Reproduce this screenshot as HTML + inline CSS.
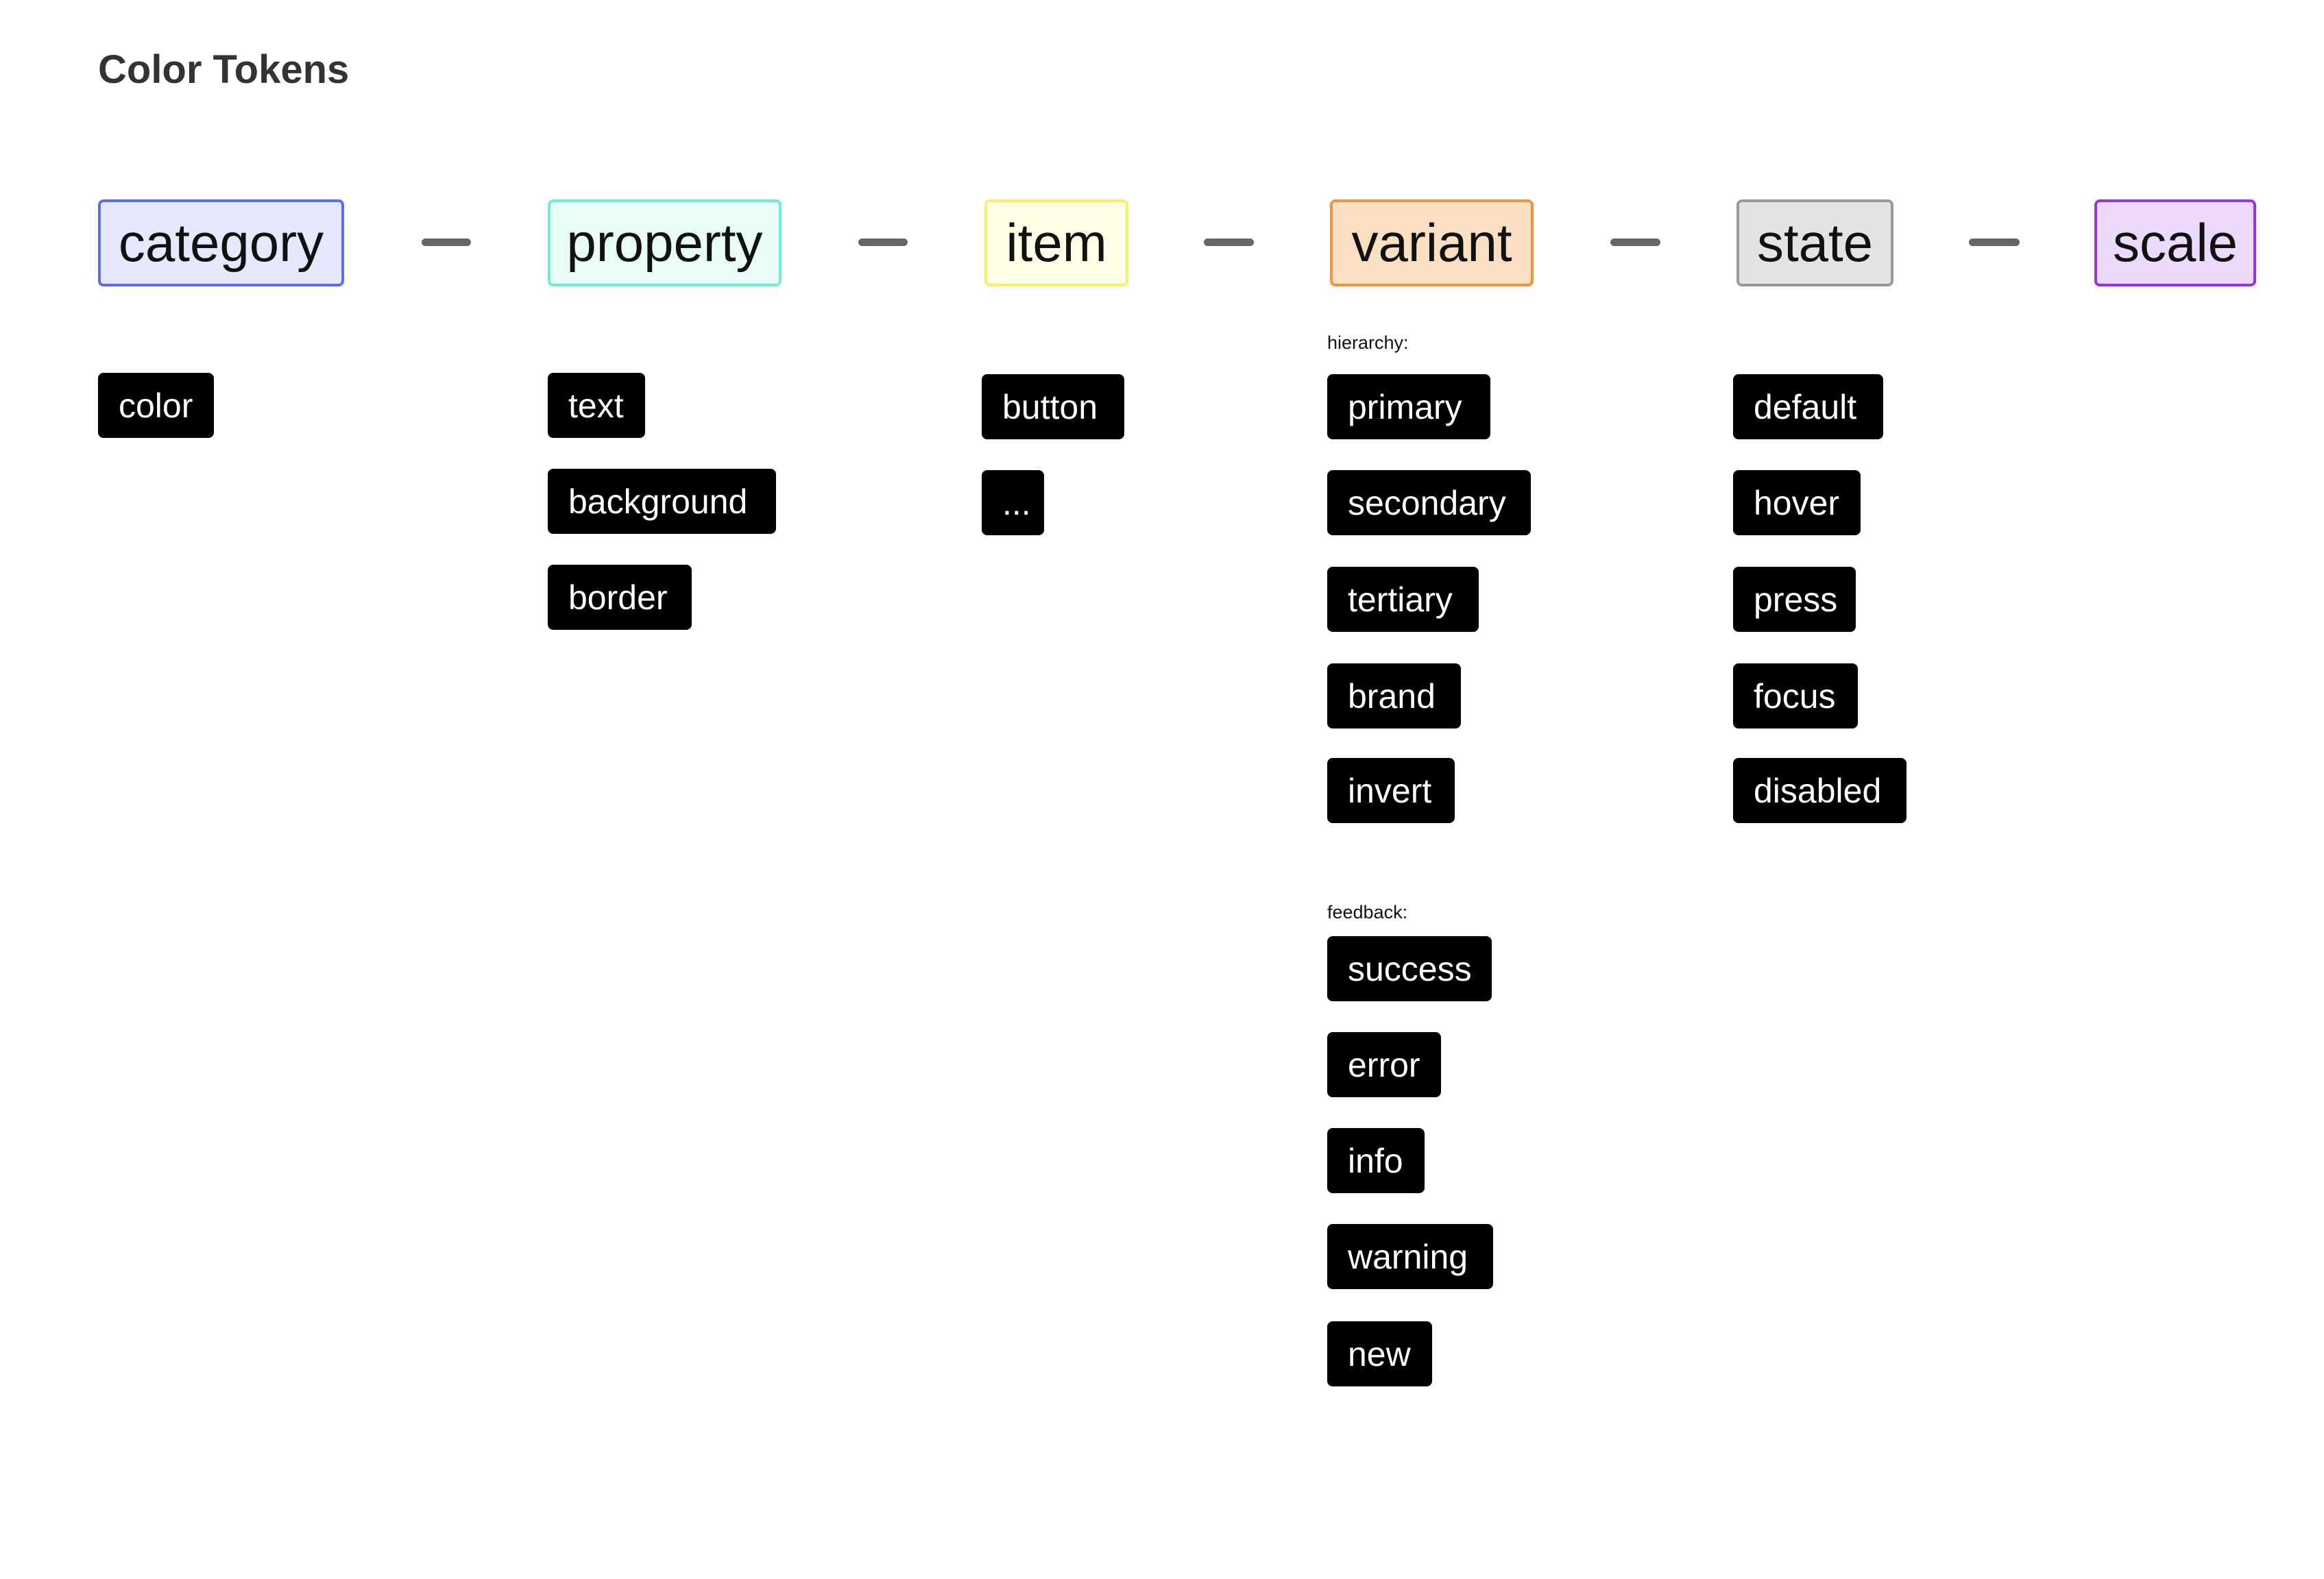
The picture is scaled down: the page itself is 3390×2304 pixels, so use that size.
<!DOCTYPE html>
<html><head><meta charset="utf-8"><style>
html,body{margin:0;padding:0;background:#fff;}
body{width:3390px;height:2304px;position:relative;overflow:hidden;font-family:"Liberation Sans",sans-serif;}
.t{position:absolute;left:143px;top:68px;font-size:58px;font-weight:bold;color:#333;}
.h{position:absolute;top:291px;height:127px;box-sizing:border-box;border:4px solid;border-radius:8px;display:flex;align-items:center;justify-content:center;font-size:78px;color:#111;}
.d{position:absolute;top:348px;height:11px;border-radius:6px;background:#666;}
.c{position:absolute;height:95px;box-sizing:border-box;background:#000;color:#fff;border-radius:8px;display:flex;align-items:center;padding-left:30px;font-size:50px;white-space:nowrap;}
.l{position:absolute;font-size:27px;color:#111;}
</style></head><body>
<div class="t">Color Tokens</div>

<div class="h" style="left:143px;width:359px;background:#e6e9fd;border-color:#5b6cf0">category</div>
<div class="d" style="left:615px;width:72px"></div>
<div class="h" style="left:799px;width:341px;background:#e8fdf7;border-color:#6ef0d0">property</div>
<div class="d" style="left:1252px;width:72px"></div>
<div class="h" style="left:1436px;width:210px;background:#fefde6;border-color:#f5ef6a">item</div>
<div class="d" style="left:1756px;width:73px"></div>
<div class="h" style="left:1940px;width:297px;background:#fbdfc4;border-color:#f0943c">variant</div>
<div class="d" style="left:2349px;width:73px"></div>
<div class="h" style="left:2533px;width:229px;background:#e3e3e3;border-color:#999">state</div>
<div class="d" style="left:2872px;width:74px"></div>
<div class="h" style="left:3055px;width:236px;background:#ecdafc;border-color:#9333ea">scale</div>

<div class="c" style="left:143px;top:544px;width:169px">color</div>

<div class="c" style="left:799px;top:544px;width:142px">text</div>
<div class="c" style="left:799px;top:684px;width:333px">background</div>
<div class="c" style="left:799px;top:824px;width:210px">border</div>

<div class="c" style="left:1432px;top:546px;width:208px">button</div>
<div class="c" style="left:1432px;top:686px;width:91px">...</div>

<div class="l" style="left:1936px;top:485px">hierarchy:</div>
<div class="c" style="left:1936px;top:546px;width:238px">primary</div>
<div class="c" style="left:1936px;top:686px;width:297px">secondary</div>
<div class="c" style="left:1936px;top:827px;width:221px">tertiary</div>
<div class="c" style="left:1936px;top:968px;width:195px">brand</div>
<div class="c" style="left:1936px;top:1106px;width:186px">invert</div>

<div class="l" style="left:1936px;top:1316px">feedback:</div>
<div class="c" style="left:1936px;top:1366px;width:240px">success</div>
<div class="c" style="left:1936px;top:1506px;width:166px">error</div>
<div class="c" style="left:1936px;top:1646px;width:142px">info</div>
<div class="c" style="left:1936px;top:1786px;width:242px">warning</div>
<div class="c" style="left:1936px;top:1928px;width:153px">new</div>

<div class="c" style="left:2528px;top:546px;width:219px">default</div>
<div class="c" style="left:2528px;top:686px;width:186px">hover</div>
<div class="c" style="left:2528px;top:827px;width:179px">press</div>
<div class="c" style="left:2528px;top:968px;width:182px">focus</div>
<div class="c" style="left:2528px;top:1106px;width:253px">disabled</div>
</body></html>
